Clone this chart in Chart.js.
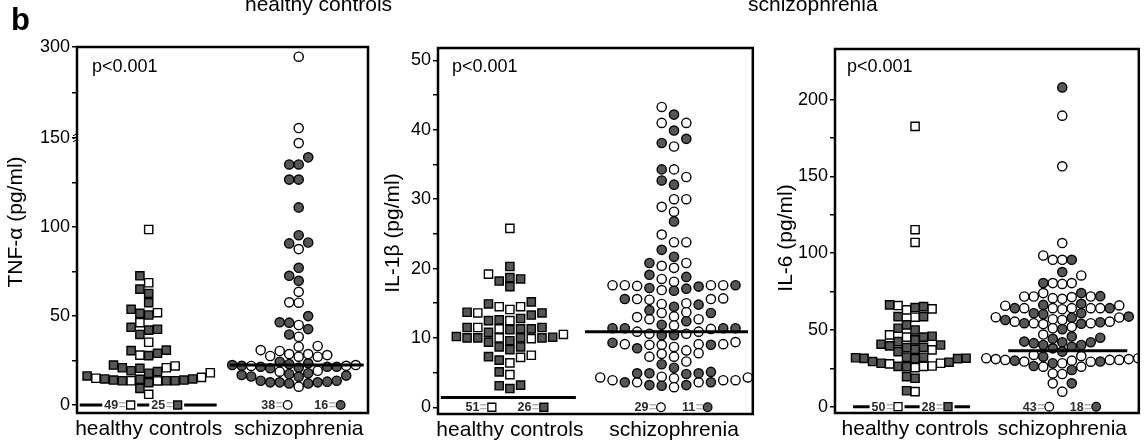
<!DOCTYPE html>
<html><head><meta charset="utf-8">
<script src="https://cdn.jsdelivr.net/npm/chart.js@4.4.1/dist/chart.umd.min.js"></script>
<style>
html,body{margin:0;padding:0;background:#fff;}
#wrap{position:relative;width:1146px;height:444px;overflow:hidden;font-family:"Liberation Sans",Arial,sans-serif;}
canvas{position:absolute;top:0;}
.t{position:absolute;white-space:nowrap;color:#000;line-height:1;}
</style></head><body>
<div id="wrap">
<canvas id="c1" width="380" height="444" style="left:0px"></canvas>
<canvas id="c2" width="380" height="444" style="left:380px"></canvas>
<canvas id="c3" width="386" height="444" style="left:760px"></canvas>
<div class="t" style="left:11px;top:4px;font-size:31px;font-weight:bold;">b</div>
<div class="t" style="left:245px;top:-7px;font-size:21px;">healthy controls</div>
<div class="t" style="left:748px;top:-7px;font-size:21px;">schizophrenia</div>
</div>
<script>
// ---------------- DATA ----------------
const categories = ['healthy controls', 'schizophrenia'];

// TNF-alpha (pg/ml)
const tnfHcOpen   = [98.5, 68.6, 51.8, 46.2, 35.2, 28.0, 21.9, 20.9, 18.1, 15.5, 15.0, 13.6, 13.5, 6.0];
const tnfHcFilled = [72.5, 65.0, 62.6, 57.4, 53.7, 51.4, 50.5, 43.6, 42.5, 42.0, 39.6, 30.8, 30.5, 29.0, 27.7, 22.4, 20.9, 20.6, 19.2, 18.7, 17.8, 16.3, 14.6, 14.6, 14.4, 14.0, 14.0, 13.6, 13.6, 13.6, 12.5, 9.3];
const tnfSzOpen   = [284, 166, 147, 87.5, 63.5, 57.6, 57.4, 44.9, 38.3, 33.1, 32.7, 30.8, 30.3, 28.6, 28.6, 28.0, 27.5, 27.1, 27.1, 22.4, 22.0, 21.9, 19.2, 18.7, 10.3];
const tnfSzFilled = [139, 135, 135, 126.5, 126.5, 110.9, 95.3, 91.2, 90.7, 77.0, 72.5, 69.7, 49.9, 46.4, 46.2, 42.6, 39.6, 24.3, 23.4, 23.0, 22.4, 22.0, 21.5, 21.5, 21.5, 21.0, 20.6, 17.8, 17.4, 16.8, 16.5, 16.0, 15.9, 13.6, 13.6, 13.1, 12.7, 12.7, 12.7, 12.1, 12.1];
const tnfMedians  = [0, 22.4];
const tnfBelowHc  = [49, 25];
const tnfBelowSz  = [38, 16];
const tnfTicks    = [0, 25, 50, 75, 100, 125, 150, 225, 300];
const tnfLabels   = [0, 50, 100, 150, 300];

// IL-1beta (pg/ml)
const il1HcOpen   = [25.8, 19.2, 14.5, 14.5, 14.1, 13.6, 12.5, 11.5, 11.3, 10.5, 10.0, 9.9, 7.5, 7.2, 6.4, 4.7];
const il1HcFilled = [20.3, 18.7, 18.5, 18.2, 17.4, 15.2, 14.9, 13.7, 13.6, 13.3, 12.8, 12.6, 12.5, 11.5, 11.5, 11.3, 11.3, 11.2, 10.8, 10.2, 10.1, 10.0, 10.0, 10.0, 10.0, 9.6, 9.4, 8.7, 8.7, 8.3, 7.3, 6.8, 5.1, 3.2, 3.1, 2.7];
const il1SzOpen   = [43.3, 41.0, 41.0, 37.6, 34.3, 33.2, 30.0, 30.0, 28.9, 28.2, 24.9, 23.8, 23.8, 20.8, 20.4, 20.1, 18.5, 18.1, 17.6, 17.6, 17.6, 17.6, 17.5, 16.9, 15.7, 15.6, 15.6, 15.5, 15.0, 14.9, 13.7, 13.6, 13.1, 13.0, 12.7, 12.7, 11.8, 11.3, 10.9, 10.9, 10.6, 10.6, 9.4, 9.1, 9.1, 9.1, 9.0, 9.0, 8.7, 8.2, 7.8, 7.7, 7.3, 7.3, 6.6, 4.4, 4.3, 4.3, 4.2, 3.9, 3.9, 3.9, 3.6, 3.6, 2.9];
const il1SzFilled = [42.2, 39.9, 38.7, 38.1, 34.3, 32.7, 32.1, 26.8, 22.7, 21.7, 20.8, 19.1, 18.8, 17.6, 17.4, 17.2, 17.1, 16.8, 15.6, 14.8, 14.5, 14.0, 13.6, 12.4, 11.9, 11.4, 11.4, 11.4, 11.4, 10.4, 10.4, 9.3, 9.0, 8.5, 6.2, 5.7, 5.1, 4.9, 4.9, 4.9, 4.8, 3.6, 3.6, 3.2, 3.2, 3.1];
const il1Medians  = [1.4, 10.9];
const il1BelowHc  = [51, 26];
const il1BelowSz  = [29, 11];
const il1Ticks    = [0, 5, 10, 15, 20, 25, 30, 35, 40, 45, 50];
const il1Labels   = [0, 10, 20, 30, 40, 50];

// IL-6 (pg/ml)
const il6HcOpen   = [182.6, 115.3, 107.0, 65.9, 63.7, 63.1, 58.3, 46.8, 45.3, 37.0, 28.3, 27.9, 26.5, 26.3, 25.4, 9.8];
const il6HcFilled = [66.3, 65.2, 64.6, 58.7, 58.7, 53.3, 51.1, 50.0, 45.9, 45.3, 43.5, 42.4, 40.7, 40.2, 39.6, 38.7, 38.5, 37.4, 35.9, 32.2, 32.2, 31.9, 31.6, 31.5, 31.3, 31.3, 29.4, 29.0, 28.3, 26.3, 26.1, 19.6, 18.5, 10.4];
const il6SzOpen   = [189.6, 156.6, 106.6, 98.5, 95.7, 95.7, 85.5, 80.5, 80.5, 80.0, 74.0, 71.8, 71.8, 71.8, 71.4, 70.7, 70.3, 66.0, 65.8, 64.2, 64.2, 64.2, 64.2, 64.2, 63.5, 58.3, 58.1, 57.0, 56.5, 55.4, 55.4, 54.4, 54.4, 53.8, 52.0, 51.1, 47.0, 33.7, 33.0, 31.6, 31.6, 31.0, 31.0, 30.5, 30.5, 30.5, 30.0, 29.4, 29.3, 28.3, 26.1, 26.1, 21.7, 21.3, 15.2, 9.8];
const il6SzFilled = [208.0, 95.7, 87.7, 80.5, 74.0, 72.0, 67.0, 66.3, 64.2, 64.2, 60.9, 60.9, 60.3, 58.7, 58.0, 56.5, 55.0, 54.4, 54.0, 50.5, 45.7, 44.9, 44.2, 42.4, 42.0, 42.0, 41.4, 40.2, 40.2, 39.1, 38.0, 35.9, 32.6, 30.0, 29.4, 28.3, 26.5, 23.9, 15.2];
const il6Medians  = [0, 36.5];
const il6BelowHc  = [50, 28];
const il6BelowSz  = [43, 18];
const il6Ticks    = [0, 25, 50, 75, 100, 125, 150, 175, 200];
const il6Labels   = [0, 50, 100, 150, 200];

// ---------------- custom broken linear scale ----------------
class BrokenLinearScale extends Chart.LinearScale {
  _tf(v) {
    const b = this.options.breakAt, k = this.options.breakFactor;
    return (b != null && v > b) ? b + (v - b) * k : v;
  }
  getPixelForValue(v) { return super.getPixelForValue(this._tf(v)); }
  getValueForPixel(p) {
    const t = super.getValueForPixel(p);
    const b = this.options.breakAt, k = this.options.breakFactor;
    return (b != null && t > b) ? b + (t - b) / k : t;
  }
}
BrokenLinearScale.id = 'brokenLinear';
BrokenLinearScale.defaults = Chart.LinearScale.defaults;
Chart.register(BrokenLinearScale);

const FONT = '"Liberation Sans", Arial, Helvetica, sans-serif';
const FILL = '#565656';

function buildPanel(canvasId, p) {
  const groups = [
    {open: p.hcOpen, filled: p.hcFilled, center: 1, style: 'rect', radius: 5.8, step: p.stepHc, med: p.medians[0], half: p.halfHc, below: p.belowHc, off: p.offHc},
    {open: p.szOpen, filled: p.szFilled, center: 2, style: 'circle', radius: 4.6, step: p.stepSz, med: p.medians[1], half: p.halfSz, below: p.belowSz, off: p.offSz}
  ];
  const datasets = [];
  groups.forEach(g => {
    g.dsFilled = datasets.length;
    datasets.push({type: 'scatter', data: g.filled.map(v => ({x: g.center, y: v})), pointStyle: g.style, pointRadius: g.radius, pointBackgroundColor: FILL, pointBorderColor: '#000', pointBorderWidth: 1.4, pointHoverRadius: g.radius});
    g.dsOpen = datasets.length;
    datasets.push({type: 'scatter', data: g.open.map(v => ({x: g.center, y: v})), pointStyle: g.style, pointRadius: g.radius, pointBackgroundColor: '#fff', pointBorderColor: '#000', pointBorderWidth: 1.4, pointHoverRadius: g.radius});
  });
  groups.forEach(g => {
    g.dsMed = datasets.length;
    datasets.push({type: 'line', data: [{x: g.center, y: g.med}, {x: g.center, y: g.med}], borderColor: '#000', borderWidth: 3, pointRadius: 0, order: -1});
  });

  const deco = {
    id: 'deco' + canvasId,
    afterDatasetsDraw(chart) {
      const ctx = chart.ctx, xs = chart.scales.x, ys = chart.scales.y;
      ctx.save();
      const y0 = ys.getPixelForValue(0);
      ctx.font = 'bold 12.5px ' + FONT;
      ctx.textBaseline = 'middle';
      groups.forEach(g => {
        const c = xs.getPixelForValue(g.center);
        [0, 1].forEach(j => {
          const txt = String(g.below[j]);
          const tw = ctx.measureText(txt).width;
          const eqw = 8, icon = 9;
          const total = tw + eqw + icon;
          const x0 = c + g.off[j] - total / 2;
          ctx.fillStyle = '#fff';
          ctx.fillRect(x0 - 2, y0 - 5, total + 4, 10);
          ctx.fillStyle = '#2a2a2a';
          ctx.textAlign = 'left';
          ctx.fillText(txt, x0, y0 + 0.5);
          ctx.fillStyle = '#b0b0b0';
          ctx.fillText('=', x0 + tw + 0.5, y0 + 0.5);
          const ix = x0 + tw + eqw + icon / 2;
          ctx.lineWidth = 1.3;
          ctx.strokeStyle = '#000';
          ctx.fillStyle = j === 0 ? '#fff' : FILL;
          ctx.beginPath();
          if (g.style === 'rect') ctx.rect(ix - 4, y0 - 4, 8, 8);
          else ctx.arc(ix, y0, 4.3, 0, Math.PI * 2);
          ctx.fill(); ctx.stroke();
        });
      });
      ctx.restore();
    },
    afterDraw(chart) {
      const ctx = chart.ctx, a = chart.chartArea, ys = chart.scales.y;
      ctx.save();
      ctx.strokeStyle = '#000';
      ctx.lineWidth = 2.5;
      ctx.strokeRect(a.left, a.top, a.right - a.left, a.bottom - a.top);
      ctx.fillStyle = '#000';
      ctx.font = '18px ' + FONT;
      ctx.textAlign = 'left';
      ctx.textBaseline = 'middle';
      ctx.fillText('p<0.001', a.left + p.pdx, 67);
      ctx.save();
      ctx.translate(p.titleX, p.titleY);
      ctx.rotate(-Math.PI / 2);
      ctx.font = '21px ' + FONT;
      ctx.textAlign = 'center';
      ctx.textBaseline = 'alphabetic';
      ctx.fillText(p.title, 0, 0);
      ctx.restore();
      if (p.breakAt != null) {
        const yb = ys.getPixelForValue(p.breakAt);
        ctx.lineWidth = 1;
        for (let d = -3; d <= 3; d += 3) {
          ctx.beginPath();
          ctx.moveTo(a.left - 4, yb + d + 1);
          ctx.lineTo(a.left, yb + d - 1);
          ctx.stroke();
        }
      }
      ctx.restore();
    }
  };

  const chart = new Chart(document.getElementById(canvasId), {
    type: 'scatter',
    data: {datasets},
    options: {
      responsive: false, animation: false, events: [],
      layout: {padding: {left: 0, right: p.padRight, top: p.padTop, bottom: 0}},
      plugins: {legend: {display: false}, tooltip: {enabled: false}},
      scales: {
        x: {
          type: 'linear', min: p.xMin, max: p.xMax,
          afterBuildTicks: s => { s.ticks = [{value: 1}, {value: 2}]; },
          afterFit: s => { s.height = p.xAxisH; },
          grid: {display: false, drawTicks: false},
          border: {display: false},
          ticks: {autoSkip: false, maxRotation: 0, padding: 4, color: '#000', font: {family: FONT, size: 21},
                  callback: v => v === 1 ? categories[0] : (v === 2 ? categories[1] : '')}
        },
        y: {
          type: p.breakAt != null ? 'brokenLinear' : 'linear',
          breakAt: p.breakAt, breakFactor: p.breakFactor,
          min: p.yMin, max: p.yMax, bounds: 'data',
          afterBuildTicks: s => { s.ticks = p.ticks.map(v => ({value: v})); },
          afterFit: s => { s.width = p.yAxisW; },
          grid: {display: true, drawOnChartArea: false, drawTicks: true, tickLength: 5, color: '#000', lineWidth: 1.5},
          border: {display: false},
          ticks: {autoSkip: false, padding: 2, color: '#000', font: {family: FONT, size: 18},
                  callback: v => p.labels.includes(v) ? String(v) : ''}
        }
      }
    },
    plugins: [deco]
  });

  // beeswarm placement (discrete horizontal slots), computed in pixel space
  const xs = chart.scales.x, ys = chart.scales.y;
  const pxPerX = xs.getPixelForValue(2) - xs.getPixelForValue(1);
  groups.forEach(g => {
    const pts = [];
    g.open.forEach((v, i) => pts.push({v, kind: 'o', i}));
    g.filled.forEach((v, i) => pts.push({v, kind: 'f', i}));
    pts.sort((a, b) => a.v - b.v);
    const placed = [];
    pts.forEach(pt => {
      const py = ys.getPixelForValue(pt.v);
      for (let k = 0; k < 200; k++) {
        const slot = k === 0 ? 0 : (k % 2 ? -Math.ceil(k / 2) : k / 2);
        if (!placed.some(q => q.slot === slot && Math.abs(q.py - py) < p.minGap)) {
          placed.push({slot, py}); pt.slot = slot; break;
        }
      }
    });
    pts.forEach(pt => {
      const ds = chart.data.datasets[pt.kind === 'o' ? g.dsOpen : g.dsFilled];
      ds.data[pt.i] = {x: g.center + pt.slot * g.step / pxPerX, y: pt.v};
    });
    const med = chart.data.datasets[g.dsMed];
    med.data = [{x: g.center - g.half[0] / pxPerX, y: g.med}, {x: g.center + g.half[1] / pxPerX, y: g.med}];
  });
  chart.update('none');
  return chart;
}

buildPanel('c1', {
  hcOpen: tnfHcOpen, hcFilled: tnfHcFilled, szOpen: tnfSzOpen, szFilled: tnfSzFilled,
  medians: tnfMedians, belowHc: tnfBelowHc, belowSz: tnfBelowSz, ticks: tnfTicks, labels: tnfLabels,
  breakAt: 150, breakFactor: 0.3395, yMin: -4.5, yMax: 150 + 150 * 0.3395,
  xMin: 0.522, xMax: 2.462, padRight: 12, padTop: 47, yAxisW: 77, xAxisH: 31,
  stepHc: 8.8, stepSz: 9.5, minGap: 9, halfHc: [69, 68], halfSz: [69, 65], offHc: [-29, 18], offSz: [-22, 31],
  title: 'TNF-\u03b1 (pg/ml)', titleX: 22, titleY: 222, pdx: 15
});
buildPanel('c2', {
  hcOpen: il1HcOpen, hcFilled: il1HcFilled, szOpen: il1SzOpen, szFilled: il1SzFilled,
  medians: il1Medians, belowHc: il1BelowHc, belowSz: il1BelowSz, ticks: il1Ticks, labels: il1Labels,
  breakAt: null, yMin: -0.97, yMax: 51.8,
  xMin: 0.562, xMax: 2.48, padRight: 2, padTop: 48, yAxisW: 58, xAxisH: 30,
  stepHc: 10.7, stepSz: 12.3, minGap: 9, halfHc: [69, 66], halfSz: [89, 74], offHc: [-29, 23], offSz: [-24, 23],
  title: 'IL-1\u03b2 (pg/ml)', titleX: 19, titleY: 233, pdx: 14
});
buildPanel('c3', {
  hcOpen: il6HcOpen, hcFilled: il6HcFilled, szOpen: il6SzOpen, szFilled: il6SzFilled,
  medians: il6Medians, belowHc: il6BelowHc, belowSz: il6BelowSz, ticks: il6Ticks, labels: il6Labels,
  breakAt: null, yMin: -4.1, yMax: 233,
  xMin: 0.456, xMax: 2.52, padRight: 6, padTop: 49, yAxisW: 75, xAxisH: 31,
  stepHc: 8.5, stepSz: 9.5, minGap: 9, halfHc: [62, 55], halfSz: [54, 65], offHc: [-28, 22], offSz: [-24, 23],
  title: 'IL-6 (pg/ml)', titleX: 32, titleY: 238, pdx: 12
});
</script>
</body></html>
